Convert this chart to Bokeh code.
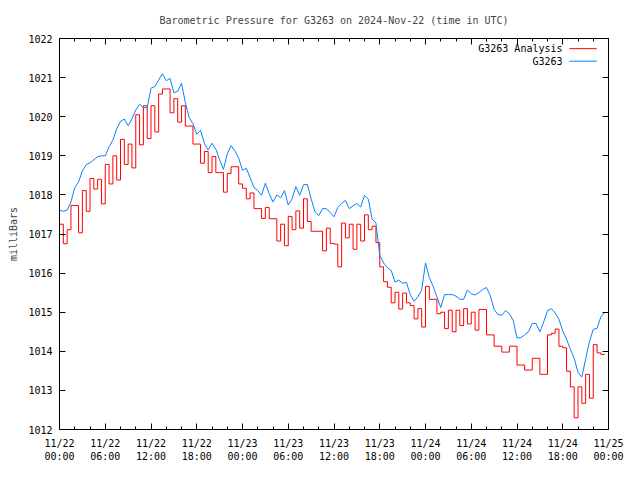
import numpy as np
from bokeh.plotting import figure
from bokeh.models import Range1d, FixedTicker, LinearAxis, Label, Arrow, CustomLabelingPolicy
from bokeh.embed import file_html
from bokeh.resources import INLINE

# ---- data (hours since 2024-11-22 00:00 UTC, 30-minute samples) ----
hours = np.arange(144) * 0.5

analysis = [
    1017.25, 1016.75, 1017.11, 1017.73, 1017.73, 1017.03, 1018.11, 1017.58, 1018.42, 1018.15,
    1018.40, 1017.77, 1018.78, 1018.28, 1019.00, 1018.38, 1019.42, 1018.78, 1019.30, 1018.69,
    1020.05, 1019.28, 1020.28, 1019.44, 1020.28, 1019.61, 1020.58, 1020.71, 1020.71, 1020.10,
    1020.46, 1019.86, 1020.28, 1019.76, 1019.76, 1019.30, 1019.30, 1018.81, 1019.11, 1018.57,
    1018.98, 1018.57, 1018.57, 1018.07, 1018.55, 1018.72, 1018.72, 1018.28, 1018.17, 1017.90,
    1018.05, 1017.65, 1017.65, 1017.40, 1017.68, 1017.39, 1017.39, 1016.82, 1017.25, 1016.70,
    1017.45, 1017.11, 1017.59, 1017.15, 1017.90, 1017.32, 1017.07, 1017.07, 1017.07, 1016.57,
    1017.15, 1016.76, 1016.74, 1016.16, 1017.28, 1016.90, 1017.25, 1016.61, 1017.25, 1016.82,
    1017.49, 1017.11, 1017.20, 1016.78, 1016.16, 1015.78, 1015.64, 1015.24, 1015.51, 1015.08,
    1015.49, 1015.24, 1015.17, 1014.83, 1015.09, 1014.62, 1015.66, 1015.33, 1015.33, 1014.96,
    1015.00, 1014.58, 1015.05, 1014.50, 1015.05, 1014.66, 1015.09, 1014.70, 1015.00, 1014.54,
    1015.07, 1015.07, 1014.42, 1014.42, 1014.13, 1014.13, 1013.98, 1013.98, 1014.13, 1014.13,
    1013.65, 1013.65, 1013.52, 1013.52, 1013.82, 1013.82, 1013.41, 1013.41, 1014.42, 1014.46,
    1014.57, 1014.13, 1014.09, 1013.49, 1013.09, 1012.30, 1013.09, 1012.67, 1013.41, 1012.80,
    1014.17, 1013.96, 1013.92, 1013.92,
]

station = [
    1017.61, 1017.58, 1017.61, 1017.82, 1018.19, 1018.33, 1018.61, 1018.77, 1018.82, 1018.90,
    1018.98, 1019.00, 1019.00, 1019.23, 1019.40, 1019.69, 1019.88, 1019.94, 1019.77, 1019.94,
    1020.17, 1020.32, 1020.23, 1020.23, 1020.73, 1020.77, 1020.94, 1021.10, 1020.92, 1020.98,
    1020.61, 1020.65, 1020.86, 1020.36, 1019.98, 1019.82, 1019.55, 1019.65, 1019.32, 1019.15,
    1019.32, 1019.17, 1018.90, 1018.65, 1019.05, 1019.26, 1019.13, 1018.94, 1018.63, 1018.68,
    1018.44, 1018.19, 1018.11, 1017.99, 1018.30, 1018.03, 1017.82, 1018.00, 1017.92, 1018.11,
    1017.74, 1017.90, 1018.21, 1017.99, 1018.26, 1018.27, 1017.90, 1017.57, 1017.47, 1017.65,
    1017.65, 1017.55, 1017.44, 1017.68, 1017.78, 1017.86, 1017.65, 1017.72, 1017.78, 1017.69,
    1017.99, 1017.89, 1017.38, 1017.28, 1016.46, 1016.26, 1016.14, 1016.07, 1015.77, 1015.82,
    1015.74, 1015.76, 1015.45, 1015.28, 1015.39, 1015.57, 1016.26, 1015.89, 1015.66, 1015.39,
    1015.12, 1015.45, 1015.45, 1015.45, 1015.41, 1015.33, 1015.33, 1015.57, 1015.47, 1015.44,
    1015.50, 1015.58, 1015.63, 1015.42, 1015.07, 1014.94, 1014.92, 1015.04, 1014.96, 1014.79,
    1014.34, 1014.35, 1014.42, 1014.50, 1014.71, 1014.71, 1014.50, 1014.75, 1015.04, 1015.09,
    1014.98, 1014.82, 1014.52, 1014.31, 1014.05, 1013.82, 1013.46, 1013.34, 1013.80, 1014.25,
    1014.56, 1014.59, 1014.88, 1014.99,
]

x_major = [0, 6, 12, 18, 24, 30, 36, 42, 48, 54, 60, 66, 72]
x_minor = list(range(0, 73, 2))
x_labels = ["11/22\n00:00", "11/22\n06:00", "11/22\n12:00", "11/22\n18:00",
            "11/23\n00:00", "11/23\n06:00", "11/23\n12:00", "11/23\n18:00",
            "11/24\n00:00", "11/24\n06:00", "11/24\n12:00", "11/24\n18:00",
            "11/25\n00:00"]
y_major = list(range(1012, 1023))

series_names = ["G3263 Analysis", "G3263"]
RED = "#ff0000"
BLUE = "#0a80ff"
FONT = "DejaVu Sans Mono"
FS = "10px"

p = figure(width=624, height=464, output_backend="svg", toolbar_location=None,
           x_range=Range1d(0, 72), y_range=Range1d(1012, 1022),
           min_border_left=59, min_border_right=16, min_border_top=38, min_border_bottom=32,
           title="Barometric Pressure for G3263 on 2024-Nov-22 (time in UTC)")

p.title.align = "center"
p.title.text_font = FONT
p.title.text_font_size = FS
p.title.text_font_style = "normal"
p.title.standoff = 18

p.grid.visible = False
p.outline_line_color = "black"
p.outline_line_width = 1
p.background_fill_color = "white"
p.border_fill_color = "white"

xt = FixedTicker(ticks=x_major, minor_ticks=x_minor)
yt = FixedTicker(ticks=y_major, minor_ticks=[])

no_labels = CustomLabelingPolicy(code="""
    for (const i of Array.from(indices)) { indices.unset(i) }
    return indices
""")

def style_axis(ax, ticker, labels=True):
    ax.ticker = ticker
    ax.axis_line_color = "black"
    ax.major_tick_line_color = "black"
    ax.minor_tick_line_color = "black"
    ax.major_tick_in = 6
    ax.major_tick_out = 0
    ax.minor_tick_in = 3
    ax.minor_tick_out = 0
    ax.major_label_text_font = FONT
    ax.major_label_text_color = "black"
    if labels:
        ax.major_label_text_font_size = FS
    else:
        ax.major_label_text_font_size = "1px"
        ax.major_label_standoff = 0
        ax.major_label_policy = no_labels

style_axis(p.xaxis[0], xt)
p.xaxis[0].major_label_overrides = {t: s for t, s in zip(x_major, x_labels)}
p.xaxis[0].major_label_standoff = 8

style_axis(p.yaxis[0], yt)
p.yaxis[0].major_label_standoff = 7
p.yaxis[0].axis_label = "milliBars"
p.yaxis[0].axis_label_text_font = FONT
p.yaxis[0].axis_label_text_font_size = FS
p.yaxis[0].axis_label_text_font_style = "normal"
p.yaxis[0].axis_label_standoff = 6

top_ax = LinearAxis()
style_axis(top_ax, xt, labels=False)
p.add_layout(top_ax, "above")
right_ax = LinearAxis()
style_axis(right_ax, yt, labels=False)
p.add_layout(right_ax, "right")

# series
p.step(hours, analysis, mode="after", line_color=RED, line_width=1)
p.line(hours, station, line_color=BLUE, line_width=1)

# legend (text left of sample line, gnuplot style)
for name, color, ly in zip(series_names, [RED, BLUE], [1021.74, 1021.42]):
    p.add_layout(Label(x=65.97, y=ly, text=name, text_align="right", text_baseline="middle",
                       text_font=FONT, text_font_size=FS, text_color="black"))
    p.add_layout(Arrow(x_start=66.87, y_start=ly, x_end=70.46, y_end=ly, end=None,
                       line_color=color, line_width=1))

open("out.html", "w").write(file_html(p, INLINE))
